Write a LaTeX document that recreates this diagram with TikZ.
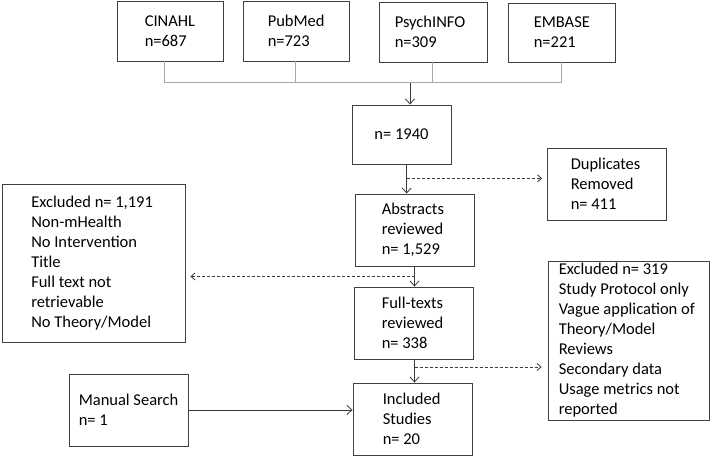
\documentclass[tikz,border=0pt]{standalone}
\usepackage{fontspec}
\setmainfont{Carlito}
\usetikzlibrary{arrows.meta,positioning}
\definecolor{boxc}{HTML}{404040}
\definecolor{linec}{HTML}{3A3A3A}
\definecolor{lgray}{HTML}{A8A8A8}
\begin{document}
\begin{tikzpicture}[x=1pt,y=-1pt,
  bx/.style={draw=boxc, line width=0.9pt, rectangle, inner sep=0pt},
  txt/.style={inner sep=0pt, align=left, anchor=west, text=black,
    font=\fontsize{16.5}{20}\selectfont},
  ctxt/.style={inner sep=0pt, align=center, text=black,
    font=\fontsize{16.5}{20}\selectfont},
  gl/.style={draw=lgray, line width=1pt},
  ar/.style={draw=linec, line width=0.8pt, -{Straight Barb[length=5pt,width=9pt]}},
  da/.style={draw=linec, line width=0.8pt, dash pattern=on 3pt off 2pt, -{Straight Barb[length=4pt,width=7pt]}}
]
\useasboundingbox (0,0) rectangle (710,457);

% boxes
\node[bx, minimum width=106pt, minimum height=60pt] (cin) at (170,31) {};
\node[bx, minimum width=106pt, minimum height=60pt] (pub) at (296,31) {};
\node[bx, minimum width=108pt, minimum height=60pt] (psy) at (433,32) {};
\node[bx, minimum width=107pt, minimum height=59pt] (emb) at (561.5,32.5) {};
\node[bx, minimum width=99pt, minimum height=59pt] (tot) at (401.5,134.5) {};
\node[bx, minimum width=119pt, minimum height=72pt] (dup) at (606.5,184) {};
\node[bx, minimum width=119pt, minimum height=72pt] (abs) at (414.5,230) {};
\node[bx, minimum width=182.5pt, minimum height=158pt] (ex1) at (93.75,263) {};
\node[bx, minimum width=119pt, minimum height=72pt] (ft) at (413.5,323) {};
\node[bx, minimum width=161pt, minimum height=159pt] (ex2) at (628.5,340.5) {};
\node[bx, minimum width=119pt, minimum height=72pt] (man) at (128.5,410) {};
\node[bx, minimum width=119pt, minimum height=72pt] (inc) at (412.5,419) {};

% texts
\node[txt] (tcin) at ([xshift=28pt]cin.west) {CINAHL\\n=687};
\node[txt] (tpub) at ([xshift=25pt]pub.west) {PubMed\\n=723};
\node[txt] (tpsy) at ([xshift=16pt]psy.west) {PsychINFO\\n=309};
\node[txt] (temb) at ([xshift=26pt]emb.west) {EMBASE\\n=221};
\node[ctxt] (ttot) at (tot.center) {n= 1940};
\node[txt] (tdup) at ([xshift=24pt]dup.west) {Duplicates\\Removed\\n= 411};
\node[txt] (tabs) at ([xshift=27pt]abs.west) {Abstracts\\reviewed\\n= 1,529};
\node[txt] (tex1) at ([xshift=29pt]ex1.west) {Excluded n= 1,191\\Non-mHealth\\No Intervention\\Title\\Full text not\\retrievable\\No Theory/Model};
\node[txt] (tft) at ([xshift=28pt]ft.west) {Full-texts\\reviewed\\n= 338};
\node[txt] (tex2) at ([xshift=11pt]ex2.west) {Excluded n= 319\\Study Protocol only\\Vague application of\\Theory/Model\\Reviews\\Secondary data\\Usage metrics not\\reported};
\node[txt] (tman) at ([xshift=10pt]man.west) {Manual Search\\n= 1};
\node[txt] (tinc) at ([xshift=30pt]inc.west) {Included\\Studies\\n= 20};

% junction of the databases
\coordinate (jc) at (164.3,83);
\coordinate (jp) at (295,83);
\coordinate (js) at (432.7,83);
\coordinate (je) at (561,83);
\coordinate (j) at (410,83);
\draw[gl] (cin.south -| jc) -- (jc) -- (je) -- (emb.south -| je);
\draw[gl] (pub.south -| jp) -- (jp);
\draw[gl] (psy.south -| js) -- (js);
\draw[ar] (j) -- (tot.north -| j);

% main flow
\coordinate (ta) at (406.7,178.3);
\coordinate (fa) at (414.5,276.5);
\coordinate (fi) at (414.5,367);
\draw[ar] (tot.south -| ta) -- (abs.north -| ta);
\draw[da, shorten >=4.5pt] (ta) -- (dup.west |- ta);
\draw[ar] (abs.south -| fa) -- (ft.north -| fa);
\draw[da, shorten >=5pt] (fa) -- (ex1.east |- fa);
\draw[ar] (ft.south -| fi) -- (inc.north -| fi);
\draw[da, shorten >=6pt] (fi) -- (ex2.west |- fi);
\draw[ar] (man.east) -- (inc.west |- man.east);
\end{tikzpicture}
\end{document}
